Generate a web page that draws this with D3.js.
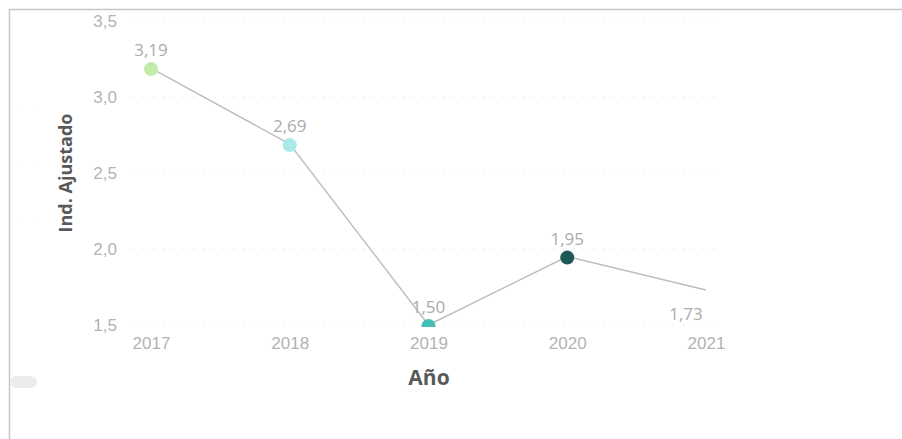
<!DOCTYPE html>
<html>
<head>
<meta charset="utf-8">
<script src="https://cdn.jsdelivr.net/npm/d3@7"></script>
<style>
  body { margin: 0; background: #fff; }
  svg { display: block; font-family: "Segoe UI", "Open Sans", "Noto Sans", sans-serif; }
</style>
</head>
<body>
<div id="chart"></div>
<script>
var years = ["2017", "2018", "2019", "2020", "2021"];
var values = [3.19, 2.69, 1.50, 1.95, 1.73];
var dotColors = ["#c4eca9", "#a9e9e7", "#45bdb6", "#1d5955", null];
var yTicks = [1.5, 2.0, 2.5, 3.0, 3.5];

var data = years.map(function(y, i) { return {year: y, value: values[i], color: dotColors[i]}; });

var W = 902, H = 439;
var svg = d3.select("#chart").append("svg")
    .attr("width", W)
    .attr("height", H);

// frame
svg.append("line").attr("x1", 9).attr("x2", W).attr("y1", 9.5).attr("y2", 9.5)
    .attr("stroke", "#c6c6c6").attr("stroke-width", 1.5);
svg.append("line").attr("x1", 9.5).attr("x2", 9.5).attr("y1", 9).attr("y2", H)
    .attr("stroke", "#c6c6c6").attr("stroke-width", 1.5);

var x = d3.scalePoint()
    .domain(years)
    .range([151, 706]);

var y = d3.scaleLinear()
    .domain([1.5, 3.5])
    .range([325, 21]);

var fmt = function(v) { return d3.format(".2f")(v).replace(".", ","); };
var fmtTick = function(v) { return d3.format(".1f")(v).replace(".", ","); };

// gridlines
svg.append("g").selectAll("line")
    .data(yTicks)
    .join("line")
    .attr("x1", 133).attr("x2", 718)
    .attr("y1", function(d) { return y(d); })
    .attr("y2", function(d) { return y(d); })
    .attr("stroke", "#e4e4e4")
    .attr("stroke-width", 1)
    .attr("stroke-dasharray", "1.5,8.5");

// faint left ghost grid bits
svg.append("g").selectAll("line")
    .data([107, 164, 222])
    .join("line")
    .attr("x1", 12).attr("x2", 36)
    .attr("y1", function(d) { return d; })
    .attr("y2", function(d) { return d; })
    .attr("stroke", "#ececec")
    .attr("stroke-dasharray", "1.5,8.5");

// y axis
var yAxis = d3.axisLeft(y).tickValues(yTicks).tickFormat(fmtTick).tickSize(0).tickPadding(0);
var gy = svg.append("g").attr("transform", "translate(117,0)").call(yAxis);
gy.select(".domain").remove();
gy.selectAll("text").attr("fill", "#b3b3b3").style("font-size", "17px")
    .attr("dy", "0.3em");

// x axis
var xAxis = d3.axisBottom(x).tickSize(0).tickPadding(0);
var gx = svg.append("g").attr("transform", "translate(0,335)").call(xAxis);
gx.select(".domain").remove();
gx.selectAll("text").attr("fill", "#b3b3b3").style("font-size", "17px").attr("dy", "0.8em");

// axis titles
svg.append("text")
    .attr("transform", "translate(72,173) rotate(-90)")
    .attr("text-anchor", "middle")
    .attr("fill", "#595959")
    .style("font-size", "18px")
    .style("font-weight", "bold")
    .text("Ind. Ajustado");

svg.append("text")
    .attr("x", 429).attr("y", 385)
    .attr("text-anchor", "middle")
    .attr("fill", "#595959")
    .style("font-size", "21px")
    .style("font-weight", "bold")
    .text("Año");

// clip for plot area
svg.append("clipPath").attr("id", "plotclip")
    .append("rect").attr("x", 120).attr("y", 12).attr("width", 620).attr("height", 315);

var plot = svg.append("g").attr("clip-path", "url(#plotclip)");

var line = d3.line()
    .x(function(d) { return x(d.year); })
    .y(function(d) { return y(d.value); });

plot.append("path")
    .datum(data)
    .attr("fill", "none")
    .attr("stroke", "#bdbdbd")
    .attr("stroke-width", 1.4)
    .attr("d", line);

plot.selectAll("circle")
    .data(data.filter(function(d) { return d.color; }))
    .join("circle")
    .attr("cx", function(d) { return x(d.year); })
    .attr("cy", function(d) { return y(d.value) + 1; })
    .attr("r", 7)
    .attr("fill", function(d) { return d.color; });

// data labels
svg.append("g").selectAll("text")
    .data(data)
    .join("text")
    .attr("x", function(d, i) { return x(d.year) + (i === 4 ? -20 : 0); })
    .attr("y", function(d, i) { return y(d.value) + (i === 4 ? 30 : -12); })
    .attr("text-anchor", "middle")
    .attr("fill", "#ababab")
    .style("font-size", "17px")
    .text(function(d) { return fmt(d.value); });

// scrollbar stub
svg.append("rect")
    .attr("x", 10).attr("y", 376).attr("width", 27).attr("height", 12).attr("rx", 6)
    .attr("fill", "#ececec");
</script>
</body>
</html>
